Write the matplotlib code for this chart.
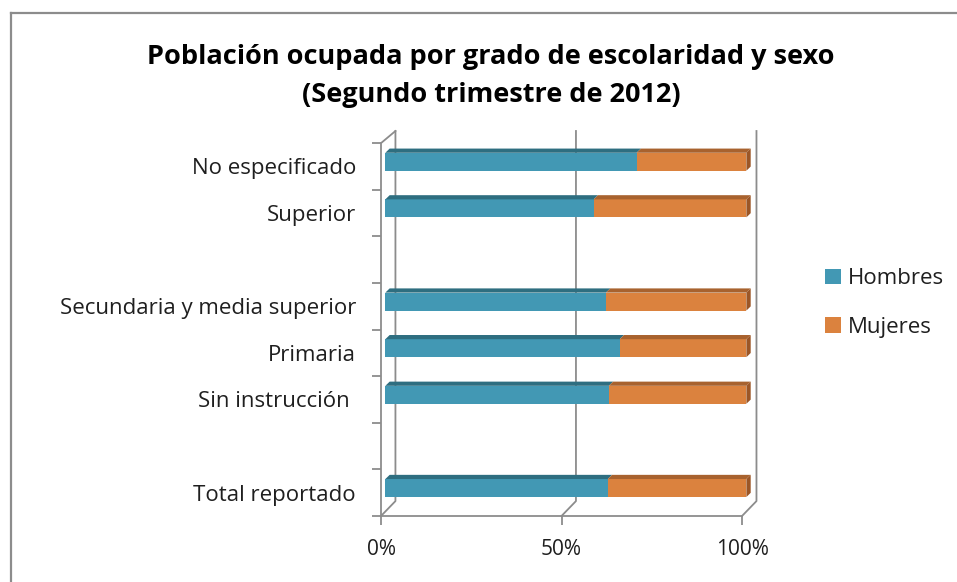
import matplotlib
matplotlib.use('Agg')
import matplotlib.pyplot as plt
from matplotlib.patches import Polygon
from matplotlib.lines import Line2D
import numpy as np

plt.rcParams['font.family'] = ['Open Sans', 'DejaVu Sans']

# categorias de abajo hacia arriba ('' = hueco vacio)
categorias = ['Total reportado', '', 'Sin instrucción ', 'Primaria',
              'Secundaria y media superior', '', 'Superior', 'No especificado']
hombres = [61.6, np.nan, 61.9, 64.9, 61.1, np.nan, 57.7, 69.6]
mujeres = [38.4, np.nan, 38.1, 35.1, 38.9, np.nan, 42.3, 30.4]
ticks_x = [0, 50, 100]
ticks_x_lbl = ['0%', '50%', '100%']

titulo = 'Población ocupada por grado de escolaridad y sexo\n(Segundo trimestre de 2012)'

# colores (cara frontal, cara superior, lateral)
AZUL, AZUL_TOP = '#4298B4', '#2E6E80'
NAR, NAR_TOP, NAR_LAT = '#DB823E', '#A8622E', '#9C5626'
GRIS = '#8C8C8C'
TXT = '#1F1F1F'

# profundidad del efecto 3d
DX, DY = 0.012, 0.09
# desplazamiento de la pared del fondo y del piso frontal
BACK_X, BACK_Y = 0.028, 0.32
FRONT_X = -0.012
TOP = 8.26

fig = plt.figure(figsize=(9.57, 5.82), dpi=100)
ax = fig.add_axes([381 / 957, 66 / 582, 378 / 957, 385 / 582])
ax.set_xlim(FRONT_X, 1.035)
ax.set_ylim(0, TOP)
for s in ax.spines.values():
    s.set_visible(False)

# marco del grafico
fig.add_artist(Line2D([11 / 957, 11 / 957], [0, 1 - 13 / 582], color=GRIS, lw=1.6))
fig.add_artist(Line2D([11 / 957, 1], [1 - 13 / 582, 1 - 13 / 582], color=GRIS, lw=1.6))

# lineas de la caja 3d
kw = dict(color=GRIS, lw=1.3, clip_on=False, zorder=1)
ax.plot([FRONT_X, FRONT_X, BACK_X], [0, 8.0, TOP], **kw)
for t in ticks_x:
    v = t / 100
    ax.plot([v + BACK_X, v + BACK_X, v + FRONT_X], [TOP, BACK_Y, 0], **kw)
ax.plot([FRONT_X, 1 + FRONT_X], [0, 0], **kw)

# barras
pos = np.arange(len(categorias)) + 0.6
h = np.array(hombres) / 100
m = np.array(mujeres) / 100
alto = 0.386
ax.barh(pos, h, height=alto, color=AZUL, zorder=3, label='Hombres')
ax.barh(pos, m, left=h, height=alto, color=NAR, zorder=3, label='Mujeres')
for y, a, b in zip(pos, h, m):
    if np.isnan(a):
        continue
    top = y + alto / 2
    bot = y - alto / 2
    ax.add_patch(Polygon([(0, top), (DX, top + DY), (a + DX, top + DY), (a, top)],
                         closed=True, color=AZUL_TOP, zorder=3, lw=0))
    ax.add_patch(Polygon([(a, top), (a + DX, top + DY), (a + b + DX, top + DY), (a + b, top)],
                         closed=True, color=NAR_TOP, zorder=3, lw=0))
    ax.add_patch(Polygon([(a + b, bot), (a + b + DX, bot + DY), (a + b + DX, top + DY), (a + b, top)],
                         closed=True, color=NAR_LAT, zorder=3, lw=0))

# ejes
ax.set_yticks(np.arange(len(categorias) + 1))
ax.set_yticklabels([])
ax.set_yticks(np.arange(len(categorias)) + 0.5, minor=True)
ax.set_yticklabels(categorias, minor=True, fontsize=16, color=TXT)
ax.tick_params(axis='y', which='major', length=6.5, width=1.3, color=GRIS, direction='out')
ax.tick_params(axis='y', which='minor', length=0, pad=18)
ax.set_xticks([t / 100 + FRONT_X for t in ticks_x])
ax.set_xticklabels(ticks_x_lbl, fontsize=15, color=TXT)
ax.tick_params(axis='x', length=6.5, width=1.3, color=GRIS, direction='out', pad=10)

fig.text(491 / 957, 1 - 76 / 582, titulo, ha='center', va='center', fontsize=19.5,
         fontweight='bold', linespacing=1.62, color='black')

fig.legend(loc='center left', bbox_to_anchor=(805 / 957, 1 - 303 / 582), frameon=False,
           fontsize=16, handlelength=0.7, handleheight=0.7, handletextpad=0.35,
           labelspacing=1.25, labelcolor=TXT)

fig.savefig('out.png', dpi=100)
